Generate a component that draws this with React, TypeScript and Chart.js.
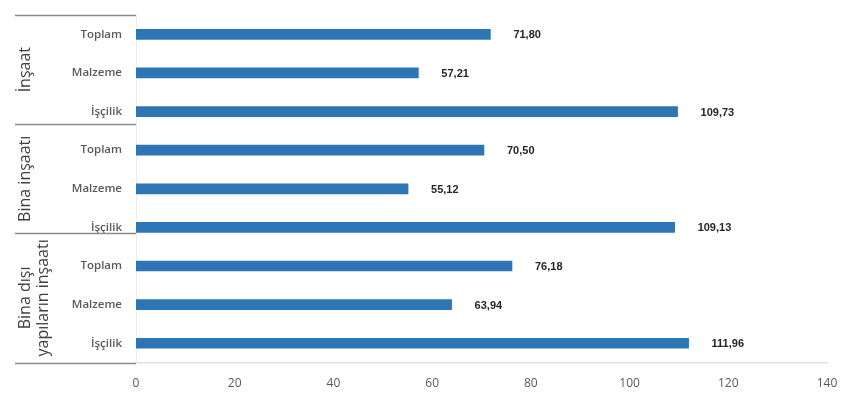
import React, { useEffect, useRef } from "react";
import { Chart, registerables } from "chart.js";

Chart.register(...registerables);

const categories = ["Toplam", "Malzeme", "İşçilik", "Toplam", "Malzeme", "İşçilik", "Toplam", "Malzeme", "İşçilik"];
const groupLabels: string[][] = [["İnşaat"], ["Bina inşaatı"], ["Bina dışı", "yapıların inşaatı"]];
const values = [71.8, 57.21, 109.73, 70.5, 55.12, 109.13, 76.18, 63.94, 111.96];
const xTicks = [0, 20, 40, 60, 80, 100, 120, 140];
// separator positions, in category-index units, as drawn in the reference
const separatorIdx = [-0.5, 2.33, 5.15, 8.5];

const fmt = (v: number) => v.toFixed(2).replace(".", ",");

const labelsPlugin = {
  id: "customLabels",
  afterDatasetsDraw(chart: any) {
    const ctx = chart.ctx;
    const meta = chart.getDatasetMeta(0);
    const yScale = chart.scales.y;
    const area = chart.chartArea;
    ctx.save();
    // value labels
    ctx.font = "bold 11px 'Liberation Sans', Arial, sans-serif";
    ctx.fillStyle = "#262626";
    ctx.textAlign = "left";
    ctx.textBaseline = "middle";
    meta.data.forEach((bar: any, i: number) => {
      ctx.fillText(fmt(values[i]), bar.x + 23, bar.y + 1);
    });
    // category labels
    ctx.font = "600 11.5px 'Open Sans', sans-serif";
    ctx.fillStyle = "#595959";
    ctx.textAlign = "right";
    categories.forEach((c, i) => {
      const y = yScale.getPixelForValue(i);
      ctx.fillText(c, area.left - 14, y);
    });
    // separators
    ctx.strokeStyle = "#8c8c8c";
    ctx.lineWidth = 1.5;
    separatorIdx.forEach((s) => {
      const y = Math.round(yScale.getPixelForValue(s)) + 0.5;
      ctx.beginPath();
      ctx.moveTo(15, y);
      ctx.lineTo(area.left, y);
      ctx.stroke();
    });
    // group labels
    ctx.font = "16px 'Open Sans', sans-serif";
    ctx.fillStyle = "#404040";
    ctx.textAlign = "center";
    groupLabels.forEach((lines, g) => {
      const a = yScale.getPixelForValue(separatorIdx[g]);
      const b = yScale.getPixelForValue(separatorIdx[g + 1]);
      const cy = (a + b) / 2;
      lines.forEach((ln, k) => {
        const cx = 25 + k * 18;
        ctx.save();
        ctx.translate(cx, cy);
        ctx.rotate(-Math.PI / 2);
        ctx.fillText(ln, 0, 0);
        ctx.restore();
      });
    });
    ctx.restore();
  },
};

export default function App() {
  const ref = useRef<HTMLCanvasElement>(null);
  useEffect(() => {
    document.body.style.margin = "0";
    const chart = new Chart(ref.current!, {
      type: "bar",
      data: {
        labels: categories,
        datasets: [
          {
            data: values,
            backgroundColor: "#2E75B6",
            barThickness: 10,
          },
        ],
      },
      options: {
        indexAxis: "y",
        animation: false,
        responsive: false,
        layout: { padding: { left: 128, right: 23, top: 15, bottom: 11 } },
        plugins: { legend: { display: false }, tooltip: { enabled: false } },
        scales: {
          x: {
            min: 0,
            max: 140,
            afterBuildTicks: (axis: any) => {
              axis.ticks = xTicks.map((v) => ({ value: v }));
            },
            grid: { display: false },
            border: { display: true, color: "#e0e0e0", width: 1.5 },
            ticks: {
              color: "#595959",
              font: { family: "'Open Sans', sans-serif", size: 12 },
              padding: 6,
              maxRotation: 0,
            },
          },
          y: {
            grid: { display: false },
            border: { display: true, color: "#ececec", width: 1 },
            ticks: { display: false },
          },
        },
      },
      plugins: [labelsPlugin],
    });
    return () => chart.destroy();
  }, []);
  return (
    <div style={{ width: 850, height: 408 }}>
      <canvas ref={ref} width={850} height={408} style={{ display: "block" }} />
    </div>
  );
}
